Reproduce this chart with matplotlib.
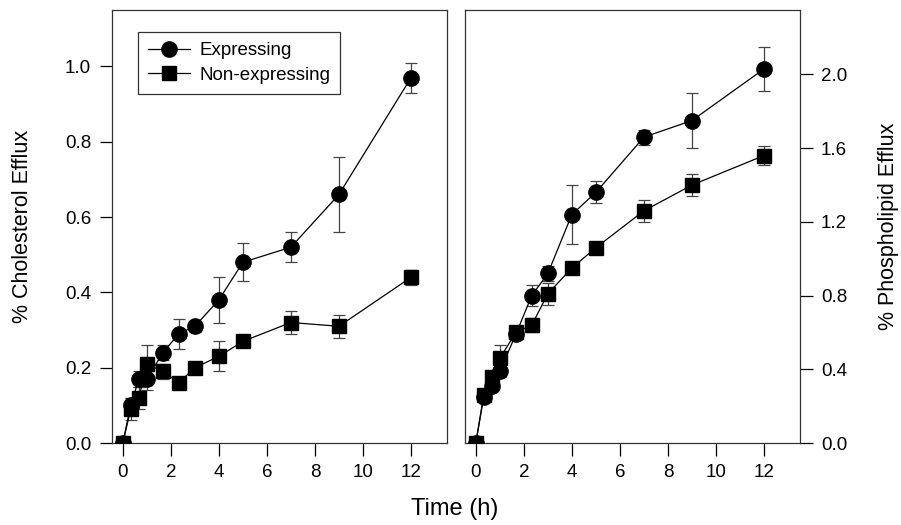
import numpy as np
import matplotlib.pyplot as plt

plt.rcParams['font.family'] = ['Liberation Sans', 'DejaVu Sans']

time_h = [0, 0.33, 0.67, 1, 1.67, 2.33, 3, 4, 5, 7, 9, 12]

chol_expr = [0, 0.10, 0.17, 0.17, 0.24, 0.29, 0.31, 0.38, 0.48, 0.52, 0.66, 0.97]
chol_expr_err = [0, 0.02, 0.02, 0.03, 0.02, 0.04, 0.015, 0.06, 0.05, 0.04, 0.10, 0.04]
chol_non = [0, 0.09, 0.12, 0.21, 0.19, 0.16, 0.20, 0.23, 0.27, 0.32, 0.31, 0.44]
chol_non_err = [0, 0.03, 0.03, 0.05, 0.02, 0.01, 0.015, 0.04, 0.01, 0.03, 0.03, 0.02]

phos_expr = [0, 0.25, 0.31, 0.39, 0.59, 0.80, 0.92, 1.24, 1.36, 1.66, 1.75, 2.03]
phos_expr_err = [0, 0.02, 0.02, 0.03, 0.03, 0.055, 0.04, 0.16, 0.06, 0.04, 0.15, 0.12]
phos_non = [0, 0.26, 0.36, 0.46, 0.60, 0.64, 0.81, 0.95, 1.06, 1.26, 1.40, 1.56]
phos_non_err = [0, 0.02, 0.02, 0.07, 0.03, 0.04, 0.06, 0.02, 0.02, 0.06, 0.06, 0.05]

chol_ticks = [0.0, 0.2, 0.4, 0.6, 0.8, 1.0]
phos_ticks = [0.0, 0.4, 0.8, 1.2, 1.6, 2.0]
x_ticks = [0, 2, 4, 6, 8, 10, 12]

fig = plt.figure(figsize=(9.01, 5.25), dpi=100)
ax1 = fig.add_axes([112/901, 82/525, 335/901, 433/525])
ax2 = fig.add_axes([465/901, 82/525, 335/901, 433/525])


def draw(ax, ye, ye_err, yn, yn_err):
    e = ax.errorbar(time_h, ye, yerr=ye_err, color='black', ecolor='#444444',
                    elinewidth=0.9, capsize=4, capthick=0.9, lw=0.9,
                    marker='o', ms=11, label='Expressing', zorder=3)
    n = ax.errorbar(time_h, yn, yerr=yn_err, color='black', ecolor='#444444',
                    elinewidth=0.9, capsize=4, capthick=0.9, lw=0.9,
                    marker='s', ms=9.5, label='Non-expressing', zorder=3)
    ax.set_xlim(-0.45, 13.5)
    ax.set_xticks(x_ticks)
    ax.tick_params(direction='out', length=9, width=0.9, labelsize=13.5, pad=6)
    for s in ax.spines.values():
        s.set_linewidth(0.9)
        s.set_color('#333333')
    return e[0], n[0]


h_expr, h_non = draw(ax1, chol_expr, chol_expr_err, chol_non, chol_non_err)
draw(ax2, phos_expr, phos_expr_err, phos_non, phos_non_err)

ax1.set_ylim(0, 1.15)
ax1.set_yticks(chol_ticks)
ax1.set_yticklabels([f'{v:.1f}' for v in chol_ticks])
ax1.set_ylabel('% Cholesterol Efflux', fontsize=15.5, labelpad=23)

ax2.set_ylim(0, 2.35)
ax2.set_yticks(phos_ticks)
ax2.set_yticklabels([f'{v:.1f}' for v in phos_ticks])
ax2.yaxis.tick_right()
ax2.yaxis.set_label_position('right')
ax2.set_ylabel('% Phospholipid Efflux', fontsize=15.5, labelpad=22, rotation=90)

leg = ax1.legend([h_expr, h_non], ['Expressing', 'Non-expressing'],
                 loc='upper left', bbox_to_anchor=(0.078, 0.95), fontsize=13.5,
                 frameon=True, fancybox=False, handlelength=2.2, borderpad=0.55,
                 labelspacing=0.4, handletextpad=0.5, borderaxespad=0)
leg.get_frame().set_edgecolor('black')
leg.get_frame().set_linewidth(0.9)

fig.text(0.505, 0.03, 'Time (h)', ha='center', va='center', fontsize=17)

fig.savefig('out.png', dpi=100)
